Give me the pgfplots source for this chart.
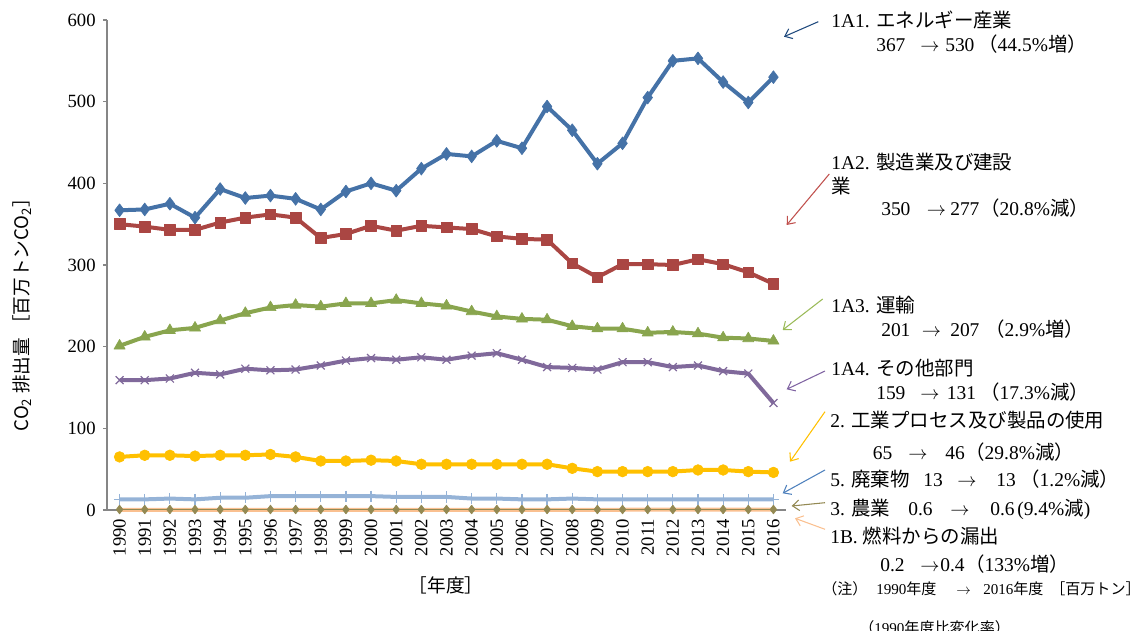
\documentclass[border=0pt]{standalone}
\usepackage{pgfplots}
\pgfplotsset{compat=1.18}
\usepackage{pgfplotstable}
\usepackage{fontspec}
\setmainfont{Liberation Serif}
\newfontfamily\jp{Noto Sans CJK JP}
\usetikzlibrary{arrows.meta}
\definecolor{cBlue}{HTML}{4572A7}
\definecolor{cRed}{HTML}{AA4643}
\definecolor{cGreen}{HTML}{89A54E}
\definecolor{cPurple}{HTML}{80699B}
\definecolor{cYellow}{HTML}{FFC000}
\definecolor{cLBlue}{HTML}{95B3D7}
\definecolor{cOlive}{HTML}{938953}
\definecolor{cPeach}{HTML}{FAC090}
\definecolor{aBlue}{HTML}{1F497D}
\definecolor{aRed}{HTML}{C0504D}
\definecolor{aGreen}{HTML}{9BBB59}
\definecolor{aPurple}{HTML}{8064A2}
\definecolor{aWaste}{HTML}{4F81BD}
\definecolor{axgray}{HTML}{868686}

\pgfplotstableread{
year energy manuf transp other indus waste agri fuel
1990 367 350 201 159 65 13 0.6 0.2
1991 368 347 212 159 67 13 0.6 0.2
1992 375 343 220 161 67 14 0.6 0.2
1993 358 343 223 168 66 13 0.6 0.2
1994 393 352 232 166 67 15 0.6 0.2
1995 382 358 241 173 67 15 0.6 0.2
1996 385 362 248 171 68 17 0.6 0.2
1997 381 358 251 172 65 17 0.6 0.2
1998 368 333 249 177 60 17 0.6 0.2
1999 390 338 253 183 60 17 0.6 0.2
2000 400 348 253 186 61 17 0.6 0.3
2001 391 342 257 184 60 16 0.6 0.3
2002 418 348 253 187 56 16 0.6 0.3
2003 436 346 250 184 56 16 0.6 0.3
2004 433 344 243 189 56 14 0.6 0.3
2005 452 335 237 192 56 14 0.6 0.3
2006 443 332 234 184 56 13 0.6 0.3
2007 494 331 233 175 56 13 0.6 0.3
2008 465 302 225 174 51 14 0.6 0.3
2009 424 285 222 172 47 13 0.6 0.3
2010 449 301 222 181 47 13 0.6 0.3
2011 505 301 217 181 47 13 0.6 0.4
2012 550 300 218 175 47 13 0.6 0.4
2013 553 307 216 177 49 13 0.6 0.4
2014 524 301 211 170 49 13 0.6 0.4
2015 499 291 210 167 47 13 0.6 0.4
2016 530 277 207 131 46 13 0.6 0.4
}\datatable

\newcommand\anfont{\fontsize{14.6}{17}\selectfont}
\newcommand\smfont{\fontsize{11.3}{14}\selectfont}
\newcommand\annT[3]{\node[anchor=base west,inner sep=0pt,font=\anfont] at (#1,{631-#2-7}) {#3};}
\newcommand\annS[3]{\node[anchor=base west,inner sep=0pt,font=\smfont] at (#1,{631-#2-5.5}) {#3};}
\newcommand\annA[5]{\draw[#1,line width=0.8pt,-{Straight Barb[length=5pt,width=8pt]}] (#2,{631-#3}) -- (#4,{631-#5});}

\begin{document}
\begin{tikzpicture}[x=0.75pt,y=0.75pt]
\useasboundingbox (0,0) rectangle (1139,631);
\begin{axis}[at={(80.25pt,90.75pt)}, anchor=south west,
  scale only axis, width=509.25pt, height=367.5pt,
  xmin=1989.5, xmax=2016.5, ymin=0, ymax=600,
  axis lines*=left,
  axis line style={color=axgray, line width=0.8pt},
  xtick={1990,...,2016},
  xtick style={draw=none},
  ytick={0,100,...,600},
  ytick style={color=axgray, line width=0.8pt},
  tick align=outside, major tick length=3pt,
  ticklabel style={font=\fontsize{14}{16}\selectfont},
  xticklabel style={rotate=90, anchor=east},
  yticklabel style={xshift=-2pt},
  /pgf/number format/assume math mode=true,
  /pgf/number format/1000 sep={},
  clip=false,
  every axis plot/.append style={line width=3pt, line join=round},
]
\addplot[cBlue, mark=diamond*, mark size=4.8pt, mark options={solid,fill=cBlue,line width=0.5pt}] table[x=year,y=energy]{\datatable};
\addplot[cRed, mark=square*, mark size=4pt, mark options={solid,fill=cRed,line width=0.5pt}] table[x=year,y=manuf]{\datatable};
\addplot[cGreen, mark=triangle*, mark size=4.8pt, mark options={solid,fill=cGreen,line width=0.5pt}] table[x=year,y=transp]{\datatable};
\addplot[cPurple, mark=x, mark size=4.2pt, mark options={solid,line width=0.9pt}] table[x=year,y=other]{\datatable};
\addplot[cYellow, mark=*, mark size=4pt, mark options={solid,fill=cYellow,line width=0.5pt}] table[x=year,y=indus]{\datatable};
\addplot[cLBlue, mark=+, mark size=4.2pt, mark options={solid,line width=0.9pt}] table[x=year,y=waste]{\datatable};
\addplot[cPeach] table[x=year,y=fuel]{\datatable};
\addplot[cOlive, line width=1pt, mark=diamond*, mark size=3.3pt, mark options={solid,fill=cOlive,line width=0.5pt}] table[x=year,y=agri]{\datatable};
\end{axis}

% axis titles
\node[rotate=90, font=\fontsize{14}{16}\selectfont\jp] at (22,{631-310}) {CO\textsubscript{2} 排出量\ ［百万トンCO\textsubscript{2}］};
\node[font=\fontsize{14}{16}\selectfont\jp] at (446,{631-585}) {［年度］};

% annotations
\annT{831}{20.7}{1A1. {\jp エネルギー産業}}
\annT{876}{45}{367} \annT{920}{45}{$\rightarrow$} \annT{945}{45}{530} \annT{978}{45}{{\jp （}44.5\%{\jp 増）}}

\annT{831}{162.7}{1A2. {\jp 製造業及び建設}}
\annT{831}{186.7}{{\jp 業}}
\annT{881}{209}{350} \annT{926.7}{209}{$\rightarrow$} \annT{950}{209}{277} \annT{980}{209}{{\jp （}20.8\%{\jp 減）}}

\annT{831}{306}{1A3. {\jp 運輸}}
\annT{881}{329.3}{201} \annT{921.7}{329.3}{$\rightarrow$} \annT{950}{329.3}{207} \annT{985}{329.3}{{\jp （}2.9\%{\jp 増）}}

\annT{831}{369}{1A4. {\jp その他部門}}
\annT{876}{392.7}{159} \annT{920}{392.7}{$\rightarrow$} \annT{946.7}{392.7}{131} \annT{980}{392.7}{{\jp （}17.3\%{\jp 減）}}

\annT{830}{420.7}{2. {\jp 工業プロセス及び製品の使用}}
\annT{872.7}{452.7}{65} \annT{908}{452.7}{$\rightarrow$} \annT{945}{452.7}{46} \annT{965}{452.7}{{\jp （}29.8\%{\jp 減）}}

\annT{830}{479.3}{5. {\jp 廃棄物}} \annT{923}{479.3}{13} \annT{957}{479.3}{$\rightarrow$} \annT{996}{479.3}{13} \annT{1020}{479.3}{{\jp （}1.2\%{\jp 減）}}

\annT{830}{508.3}{3. {\jp 農業}} \annT{908}{508.3}{0.6} \annT{950}{508.3}{$\rightarrow$} \annT{990}{508.3}{0.6} \annT{1017}{508.3}{(9.4\%{\jp 減})}

\annT{830}{536.7}{1B. {\jp 燃料からの漏出}}
\annT{880}{565}{0.2} \annT{920}{565}{$\rightarrow$} \annT{940}{565}{0.4} \annT{965}{565}{{\jp （}133\%{\jp 増）}}

\annS{822}{589}{{\jp （注）}} \annS{876}{589}{1990{\jp 年度}} \annS{956}{589}{$\rightarrow$} \annS{983}{589}{2016{\jp 年度}} \annS{1050}{589}{{\jp ［百万トン］}}
\annS{859}{628}{{\jp （}1990{\jp 年度比変化率）}}

% pointer arrows
\annA{aBlue}{818.3}{21.7}{784}{36.7}
\annA{aRed}{829.3}{174}{786.7}{225}
\annA{aGreen}{822.7}{299}{782.7}{330}
\annA{aPurple}{825}{371}{786.7}{389.3}
\annA{cYellow}{825}{411.7}{790}{461.7}
\annA{aWaste}{825}{470}{782.7}{493.3}
\annA{cOlive}{825}{502.7}{791.7}{506}
\annA{cPeach}{825}{529.3}{795}{518.3}
\end{tikzpicture}
\end{document}
